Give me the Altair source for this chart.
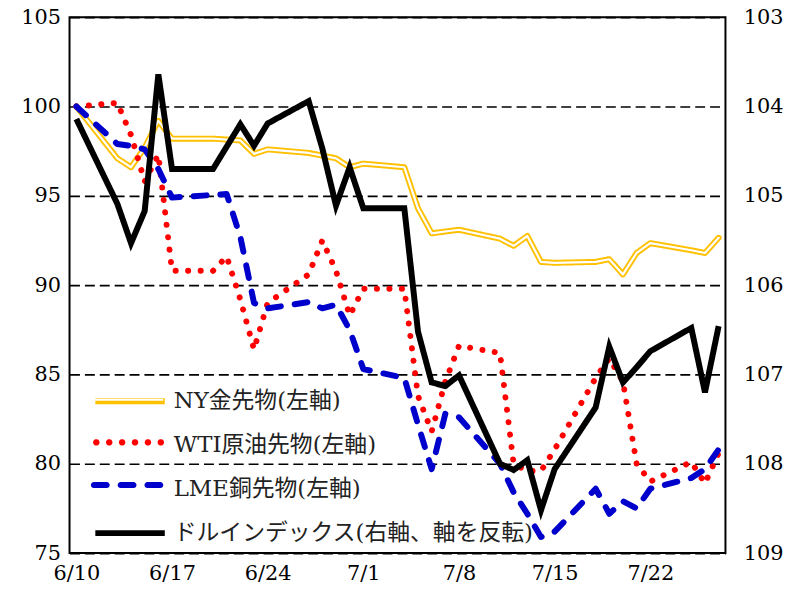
import math
import altair as alt
import pandas as pd

DATES = ["2022-06-10", "2022-06-13", "2022-06-14", "2022-06-15", "2022-06-16", "2022-06-17",
         "2022-06-20", "2022-06-21", "2022-06-22", "2022-06-23", "2022-06-24",
         "2022-06-27", "2022-06-28", "2022-06-29", "2022-06-30", "2022-07-01",
         "2022-07-04", "2022-07-05", "2022-07-06", "2022-07-07", "2022-07-08",
         "2022-07-11", "2022-07-12", "2022-07-13", "2022-07-14", "2022-07-15",
         "2022-07-18", "2022-07-19", "2022-07-20", "2022-07-21", "2022-07-22",
         "2022-07-25", "2022-07-26", "2022-07-27"]

SERIES = ["NY金先物(左軸)", "WTI原油先物(左軸)", "LME銅先物(左軸)", "ドルインデックス(右軸、軸を反転)"]

GOLD = [100, 97.1, 96.6, 97.7, 99.2, 98.2, 98.2, 98.15, 98.1, 97.35, 97.6,
        97.4, 97.25, 97.1, 96.6, 96.8, 96.6, 94.3, 92.9, 93.0, 93.1,
        92.6, 92.2, 92.75, 91.3, 91.25, 91.3, 91.45, 90.6, 91.8, 92.35,
        91.95, 91.8, 92.65]
WTI = [100, 100.2, 98.4, 95.8, 97.3, 90.8, 90.8, 91.6, 89.2, 86.4, 89.0,
       90.6, 92.5, 90.8, 88.3, 89.8, 89.8, 83.8, 81.8, 84.6, 86.6,
       86.2, 80.0, 79.6, 79.6, 80.8, 84.8, 85.9, 84.6, 80.0, 79.0,
       80.1, 78.9, 80.6]
LME = [100, 97.9, 97.8, 97.6, 96.5, 94.9, 95.05, 95.1, 92.7, 89.0, 88.7,
       89.05, 88.7, 88.9, 87.5, 85.3, 84.8, 82.2, 79.7, 82.8, 82.6,
       80.0, 78.4, 77.2, 75.9, 76.2, 78.6, 77.2, 77.9, 77.5, 78.6,
       79.2, 79.7, 80.8]
DXY = [104.14, 105.09, 105.53, 105.17, 103.64, 104.70, 104.70, 104.45, 104.20, 104.44, 104.19,
       103.94, 104.47, 105.11, 104.68, 105.14, 105.14, 106.52, 107.09, 107.13, 107.01,
       108.0, 108.07, 107.96, 108.52, 108.06, 107.37, 106.69, 107.09, 106.92, 106.74,
       106.48, 107.2, 106.46]

LEFT_TICKS = [75, 80, 85, 90, 95, 100, 105]
RIGHT_TICKS = [103, 104, 105, 106, 107, 108, 109]
X_TICK_LABELS = ["6/10", "6/17", "6/24", "7/1", "7/8", "7/15", "7/22"]

COLORS = ["#FFC000", "#FF0000", "#0000CC", "#000000"]
WTI_DASH = [0.1, 12.5]
LME_DASH = [13, 14]
# legend-row dashes for the colour legend (WTI / LME rows are drawn by their own overlays)
LEGEND_DASHES = [[1, 0], [0, 100], [0, 100], [1, 0]]

SERIF = "DejaVu Serif"
LEGFONT = "DejaVu Serif, Noto Sans CJK JP"
AXIS_FS = 21
LEG_FS = 23

start = pd.Timestamp("2022-06-10")
days = [(pd.Timestamp(d) - start).days for d in DATES]
rows = []
for name, vals in zip(SERIES, [GOLD, WTI, LME, DXY]):
    for dd, v in zip(days, vals):
        rows.append({"day": dd, "value": v, "series": name})
df = pd.DataFrame(rows)

tick_days = []
for lab in X_TICK_LABELS:
    m, d = lab.split("/")
    tick_days.append((pd.Timestamp(2022, int(m), int(d)) - start).days)
expr = "''"
for dd, lab in reversed(list(zip(tick_days, X_TICK_LABELS))):
    expr = f"datum.value == {dd} ? '{lab}' : ({expr})"

x_enc = alt.X("day:Q",
              scale=alt.Scale(domain=[-0.5, 47.5], nice=False, zero=False),
              axis=alt.Axis(values=tick_days, labelExpr=expr, title=None, grid=False,
                            ticks=False, domain=False, labelFont=SERIF, labelFontSize=AXIS_FS,
                            labelPadding=10, labelColor="black", labelFlush=False,
                            labelOverlap=False))

left_scale = alt.Scale(domain=[75, 105], nice=False, zero=False)
y_left = alt.Y("value:Q", scale=left_scale,
               axis=alt.Axis(values=LEFT_TICKS, title=None, grid=True, gridDash=[10, 5],
                             gridColor="black", gridWidth=1.7, ticks=False, domain=False,
                             labelFont=SERIF, labelFontSize=AXIS_FS, labelPadding=9,
                             labelColor="black", labelFlush=False, labelOverlap=False))
y_hidden = alt.Y("value:Q", scale=left_scale, axis=None)
y_right = alt.Y("value:Q",
                scale=alt.Scale(domain=[103, 109], nice=False, zero=False, reverse=True),
                axis=alt.Axis(orient="right", values=RIGHT_TICKS, title=None, grid=False,
                              ticks=False, domain=False, labelFont=SERIF, labelFontSize=AXIS_FS,
                              labelPadding=18, labelColor="black", labelFlush=False,
                              labelOverlap=False))


# --- legend symbol shapes (unit = 10 px with symbolSize 400) ---
def poly(points):
    return "M" + "L".join(f"{x:.3f},{y:.3f}" for x, y in points) + "Z"


def dot(cx, r, n=14):
    return poly([(cx + r * math.cos(2 * math.pi * k / n), r * math.sin(2 * math.pi * k / n))
                 for k in range(n)])


def capsule(cx, half, r, n=8):
    pts = []
    a = half - r
    for k in range(n + 1):
        t = -math.pi / 2 + math.pi * k / n
        pts.append((cx + a + r * math.cos(t), r * math.sin(t)))
    for k in range(n + 1):
        t = math.pi / 2 + math.pi * k / n
        pts.append((cx - a + r * math.cos(t), r * math.sin(t)))
    return poly(pts)


LINE_PATH = "M-3.5,0H3.5"
DOT_PATH = "".join(dot(c / 10, 0.33) for c in [-32.5, -19.5, -6.5, 6.5, 19.5, 32.5])
DASH_PATH = "".join(capsule(c / 10, 0.95, 0.3) for c in [-28.5, -1.5, 25.5])

LEG_X = 48
LEG_Y = 374
ROW = 43
leg_common = dict(title=None, orient="none", legendX=LEG_X, direction="vertical",
                  symbolSize=400, labelFont=LEGFONT, labelFontSize=LEG_FS, labelOffset=31,
                  rowPadding=19.3, padding=0, labelLimit=700)
legA = alt.Legend(legendY=LEG_Y, symbolType=LINE_PATH, symbolStrokeWidth=6,
                  labelColor="#222222", zindex=1, **leg_common)
legB = alt.Legend(legendY=LEG_Y, symbolType=LINE_PATH, symbolStrokeWidth=2.2,
                  labelOpacity=0, labelExpr="''", zindex=2, **leg_common)
legC = alt.Legend(legendY=LEG_Y + ROW, symbolType=DOT_PATH, symbolStrokeWidth=0,
                  symbolStrokeColor="transparent", symbolFillColor=COLORS[1],
                  labelOpacity=0, labelExpr="''", zindex=2, **leg_common)
legD = alt.Legend(legendY=LEG_Y + 2 * ROW, symbolType=DASH_PATH, symbolStrokeWidth=0,
                  symbolStrokeColor="transparent", symbolFillColor=COLORS[2],
                  labelOpacity=0, labelExpr="''", zindex=2, **leg_common)

color = alt.Color("series:N", scale=alt.Scale(domain=SERIES, range=COLORS), legend=legA)
dash = alt.StrokeDash("series:N", scale=alt.Scale(domain=SERIES, range=LEGEND_DASHES), legend=legA)


def overlay_opacity(name, legend):
    return alt.Opacity("series:N", scale=alt.Scale(type="ordinal", domain=[name], range=[1]),
                       legend=legend)


def base(name):
    return alt.Chart(df).transform_filter(alt.datum.series == name)


gold_o = base(SERIES[0]).mark_line(strokeWidth=6, strokeJoin="round", strokeCap="round").encode(
    x=x_enc, y=y_left, color=color, strokeDash=dash)
gold_i = base(SERIES[0]).mark_line(strokeWidth=2.2, color="white", strokeJoin="round",
                                   strokeCap="round").encode(
    x=x_enc, y=y_hidden, opacity=overlay_opacity(SERIES[0], legB))
wti = base(SERIES[1]).mark_line(strokeWidth=6, color=COLORS[1], strokeDash=WTI_DASH,
                                strokeCap="round", strokeJoin="round").encode(
    x=x_enc, y=y_hidden, opacity=overlay_opacity(SERIES[1], legC))
lme = base(SERIES[2]).mark_line(strokeWidth=6, color=COLORS[2], strokeDash=LME_DASH,
                                strokeCap="round", strokeJoin="round").encode(
    x=x_enc, y=y_hidden, opacity=overlay_opacity(SERIES[2], legD))
dxy = base(SERIES[3]).mark_line(strokeWidth=6, strokeCap="butt", strokeJoin="miter").encode(
    x=x_enc, y=y_right, color=color, strokeDash=dash)

chart = (
    alt.layer(gold_o, gold_i, wti, lme, dxy)
    .resolve_scale(y="independent", opacity="independent")
    .properties(width=661, height=540,
                autosize=alt.AutoSizeParams(type="none"),
                padding={"left": 62, "top": 7, "right": 60, "bottom": 40})
    .configure_view(stroke="black", strokeWidth=2)
)

chart.save("out.html", embed_options={"renderer": "svg", "actions": False})
